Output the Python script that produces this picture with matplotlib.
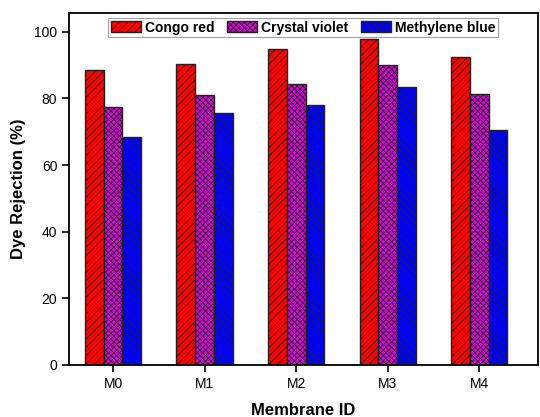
import numpy as np
import matplotlib
matplotlib.use("Agg")
import matplotlib.pyplot as plt

plt.rcParams['font.family'] = ['Liberation Sans', 'DejaVu Sans']
plt.rcParams['hatch.linewidth'] = 0.6

membranes = ["M0", "M1", "M2", "M3", "M4"]
congo_red = [88.5, 90.3, 95.0, 98.0, 92.5]
crystal_violet = [77.5, 81.0, 84.5, 90.0, 81.5]
methylene_blue = [68.5, 75.5, 78.0, 83.5, 70.5]

fig = plt.figure(figsize=(5.4, 4.17), dpi=100)
ax = fig.add_axes([0.128, 0.125, 0.868, 0.844])

x = np.arange(len(membranes))
w = 0.205
series = [
    (congo_red, "Congo red", "#ff0000", "////"),
    (crystal_violet, "Crystal violet", "#e000e0", "xxxxxx"),
    (methylene_blue, "Methylene blue", "#0000ff", "\\\\\\\\"),
]
for k, (vals, name, col, h) in enumerate(series):
    ax.bar(x + (k - 1) * w, vals, w, color=col, edgecolor="#222222",
           linewidth=1.0, hatch=h, label=name)

ax.set_xlim(-0.48, 4.64)
ax.set_ylim(0, 105.7)
ax.set_xticks(x)
ax.set_xticklabels(membranes)
ax.set_yticks([0, 20, 40, 60, 80, 100])
ax.tick_params(direction="out", length=5, width=1.2, labelsize=10)
for s in ax.spines.values():
    s.set_linewidth(1.3)

ax.set_xlabel("Membrane ID", fontsize=12, fontweight="bold", labelpad=9)
ax.set_ylabel("Dye Rejection (%)", fontsize=12, fontweight="bold", labelpad=6)

leg = ax.legend(loc="upper center", ncol=3, frameon=True, fancybox=False,
                edgecolor="#888888", prop={"weight": "bold", "size": 10},
                handlelength=2.15, handleheight=0.85, columnspacing=0.9,
                handletextpad=0.3, borderpad=0.2, borderaxespad=0.0,
                bbox_to_anchor=(0.5, 0.986))
leg.get_frame().set_linewidth(0.8)

fig.savefig("out.png", dpi=100)
